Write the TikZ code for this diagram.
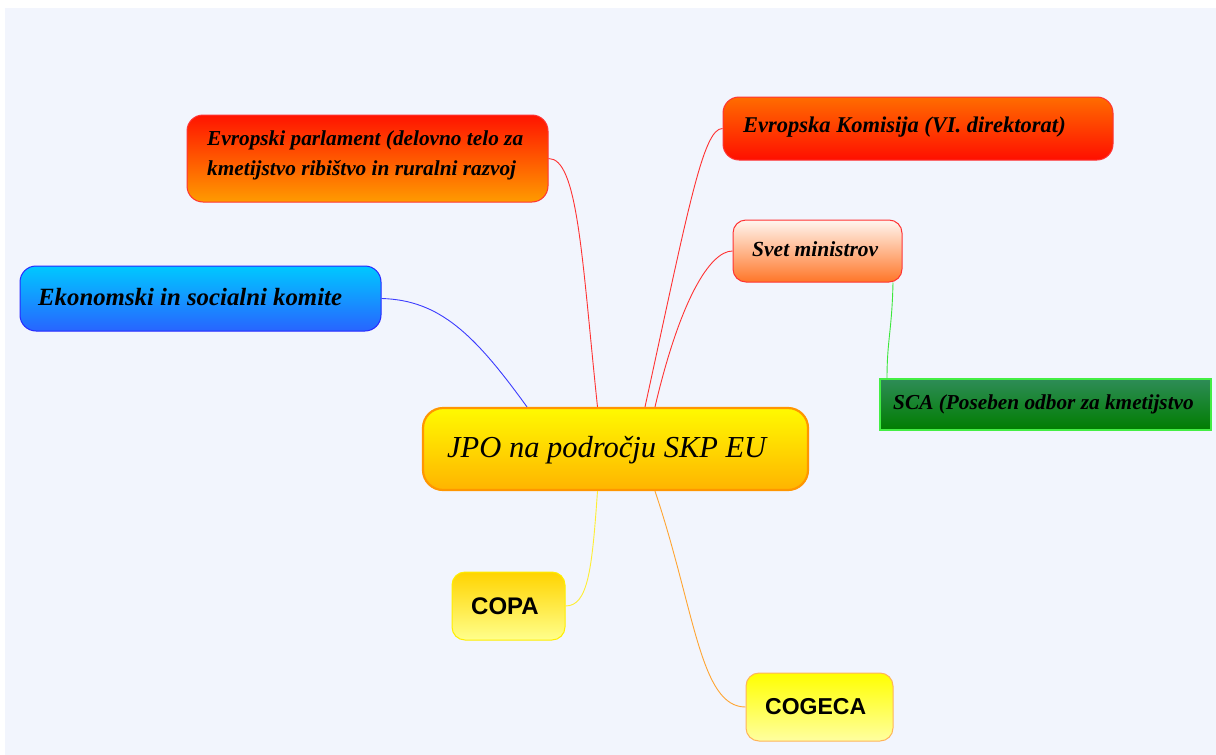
\documentclass[tikz,border=0pt]{standalone}
\usepackage{fontspec}
\setmainfont{Liberation Serif}
\newfontfamily\boldsans{Liberation Sans}
\usetikzlibrary{shadings}
\definecolor{bgc}{HTML}{F2F5FD}
\tikzset{
  box/.style={draw, line width=1pt, rounded corners=16pt, inner sep=0pt},
  lbl/.style={anchor=west, inner sep=0pt, text=black, align=left},
  conn/.style={line width=0.9pt},
}
\begin{document}
\begin{tikzpicture}[x=1pt,y=-1pt]
\useasboundingbox (0,0) rectangle (1216,755);
\fill[white] (0,0) rectangle (1216,755);
\fill[bgc] (5,8) rectangle (1216,755);

% boxes
\node[box, draw=red!80, top color={rgb,255:red,255;green,20;blue,0}, bottom color={rgb,255:red,255;green,155;blue,0}, minimum width=361pt, minimum height=87pt] (parl) at (367.5,158.5) {};
\node[lbl, font=\fontsize{21.3}{30}\selectfont\bfseries\itshape] (parlt) at (207,155) {Evropski parlament (delovno telo za\\kmetijstvo ribištvo in ruralni razvoj};

\node[box, draw=red!80, top color={rgb,255:red,255;green,108;blue,0}, bottom color={rgb,255:red,255;green,15;blue,0}, minimum width=390pt, minimum height=63pt] (kom) at (918,128.5) {};
\node[lbl, font=\fontsize{22.5}{26}\selectfont\bfseries\itshape] (komt) at (743,127) {Evropska Komisija (VI. direktorat)};

\node[box, draw=red!80, rounded corners=13pt, top color={rgb,255:red,255;green,246;blue,240}, bottom color={rgb,255:red,255;green,118;blue,40}, minimum width=169pt, minimum height=62pt] (svet) at (817.5,251) {};
\node[lbl, font=\fontsize{21.5}{25}\selectfont\bfseries\itshape] (svett) at (752,249) {Svet ministrov};

\node[draw={rgb,255:red,68;green,238;blue,68}, line width=1.2pt, inner sep=0pt, top color={rgb,255:red,46;green,140;blue,87}, bottom color={rgb,255:red,0;green,125;blue,0}, minimum width=331pt, minimum height=51pt] (sca) at (1045.5,404.5) {};
\node[lbl, font=\fontsize{21.3}{25}\selectfont\bfseries\itshape] (scat) at (893,404) {SCA (Poseben odbor za kmetijstvo};

\node[box, draw={rgb,255:red,40;green,40;blue,255}, top color={rgb,255:red,0;green,200;blue,255}, bottom color={rgb,255:red,40;green,100;blue,255}, minimum width=361pt, minimum height=65pt] (eko) at (200.5,298.5) {};
\node[lbl, font=\fontsize{24.8}{28}\selectfont\bfseries\itshape] (ekot) at (38,297) {Ekonomski in socialni komite};

\node[box, draw={rgb,255:red,255;green,150;blue,0}, line width=2.2pt, rounded corners=20pt, top color={rgb,255:red,255;green,250;blue,0}, bottom color={rgb,255:red,255;green,180;blue,0}, minimum width=385pt, minimum height=82pt] (jpo) at (615.5,449) {};
\node[lbl, font=\fontsize{30.5}{34}\selectfont\itshape] (jpot) at (447,450) {JPO na področju SKP EU};

\node[box, draw={rgb,255:red,255;green,238;blue,0}, rounded corners=13pt, top color={rgb,255:red,255;green,212;blue,0}, bottom color={rgb,255:red,255;green,255;blue,140}, minimum width=113pt, minimum height=68pt] (copa) at (508.5,606) {};
\node[lbl, font=\fontsize{24}{28}\selectfont\boldsans\bfseries] (copat) at (471,606) {COPA};

\node[box, draw={rgb,255:red,255;green,180;blue,90}, rounded corners=13pt, top color={rgb,255:red,255;green,255;blue,0}, bottom color={rgb,255:red,255;green,255;blue,160}, minimum width=147pt, minimum height=68pt] (cog) at (819.5,707) {};
\node[lbl, font=\fontsize{23}{28}\selectfont\boldsans\bfseries] (cogt) at (765,707) {COGECA};

% connectors
\draw[conn, draw={rgb,255:red,255;green,50;blue,50}] (parl.east) .. controls (578,158) and (582,260) .. ([xshift=-18pt]jpo.north);
\draw[conn, draw={rgb,255:red,255;green,50;blue,50}] (kom.west) .. controls (703,128) and (688,210) .. ([xshift=29.5pt]jpo.north);
\draw[conn, draw={rgb,255:red,255;green,50;blue,50}] (svet.west) .. controls (710,251) and (680,300) .. ([xshift=39.5pt]jpo.north);
\draw[conn, draw={rgb,255:red,60;green,60;blue,255}] (eko.east) .. controls (440,300) and (475,335) .. ([xshift=-88.5pt]jpo.north);
\draw[conn, draw={rgb,255:red,60;green,230;blue,60}] ([xshift=-9.5pt]svet.south east) .. controls (892,330) and (887,340) .. ([xshift=-158.5pt]sca.north);
\draw[conn, draw={rgb,255:red,255;green,238;blue,50}] ([xshift=-18pt]jpo.south) .. controls (592,570) and (588,606) .. (copa.east);
\draw[conn, draw={rgb,255:red,255;green,165;blue,50}] ([xshift=39.5pt]jpo.south) .. controls (695,610) and (700,707) .. (cog.west);
\end{tikzpicture}
\end{document}
